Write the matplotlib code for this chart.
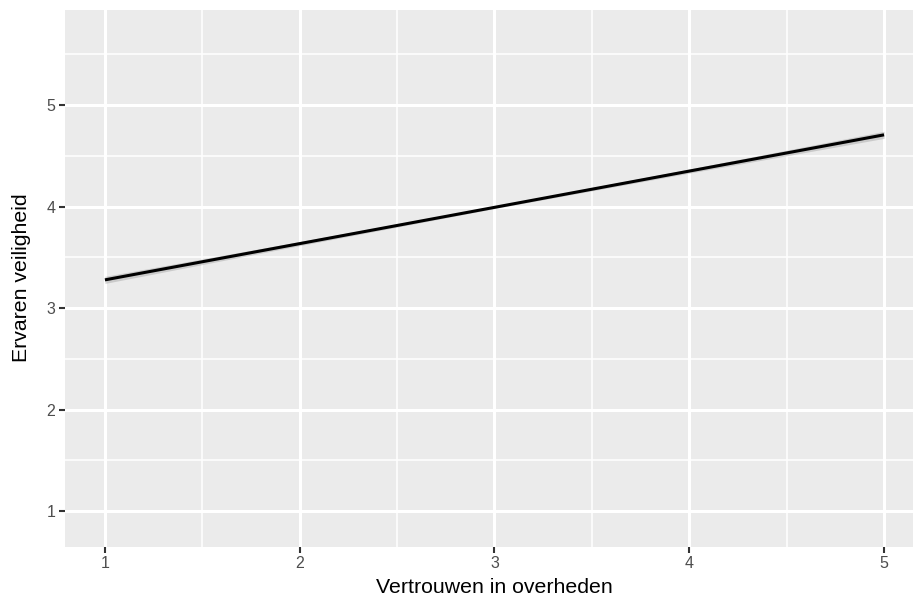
import numpy as np
import matplotlib
matplotlib.use("Agg")
import matplotlib.pyplot as plt

# Fitted regression line with its confidence band
trust = [1, 2, 3, 4, 5]
safety_fit = [3.278, 3.635, 3.992, 4.349, 4.706]
band_half = [0.035, 0.020, 0.012, 0.020, 0.035]

x_ticks = [1, 2, 3, 4, 5]
y_ticks = [1, 2, 3, 4, 5]

plt.rcParams["font.family"] = ["Liberation Sans", "DejaVu Sans"]

W, H = 913, 597
L, R, T, B = 65, 923, 10, 546.5
fig = plt.figure(figsize=(W / 100, H / 100), dpi=100)
ax = fig.add_axes([L / W, 1 - B / H, (R - L) / W, (B - T) / H])

ax.set_facecolor("#EBEBEB")
for s in ax.spines.values():
    s.set_visible(False)

ax.set_xlim(0.795, 5.2)
ax.set_ylim(0.653, 5.935)

# grid: minor lines at half steps, major at integers
for v in np.arange(1.5, 5.5, 1.0):
    ax.axvline(v, color="white", lw=1.1, zorder=0.5)
for v in np.arange(1.5, 6.0, 1.0):
    ax.axhline(v, color="white", lw=1.1, zorder=0.5)
for v in x_ticks:
    ax.axvline(v, color="white", lw=2.2, zorder=0.6)
for v in y_ticks:
    ax.axhline(v, color="white", lw=2.2, zorder=0.6)

lo = np.array(safety_fit) - np.array(band_half)
hi = np.array(safety_fit) + np.array(band_half)
ax.fill_between(trust, lo, hi, color="#999999", alpha=0.4, lw=0, zorder=2)
ax.plot(trust, safety_fit, color="black", lw=2.2, zorder=3, solid_capstyle="butt")

ax.set_xticks(x_ticks)
ax.set_yticks(y_ticks)
ax.tick_params(axis="both", colors="#333333", labelcolor="#4D4D4D",
               labelsize=11.5, length=4, width=1.5, pad=3)

ax.set_xlabel("Vertrouwen in overheden", fontsize=15.3, color="black")
ax.set_ylabel("Ervaren veiligheid", fontsize=15.3, color="black")
ax.xaxis.set_label_coords((494 - L) / (R - L), -(578 - B) / (B - T))
ax.yaxis.set_label_coords(-(L - 31) / (R - L), (B - 277.5) / (B - T))

fig.savefig("out.png", dpi=100)
